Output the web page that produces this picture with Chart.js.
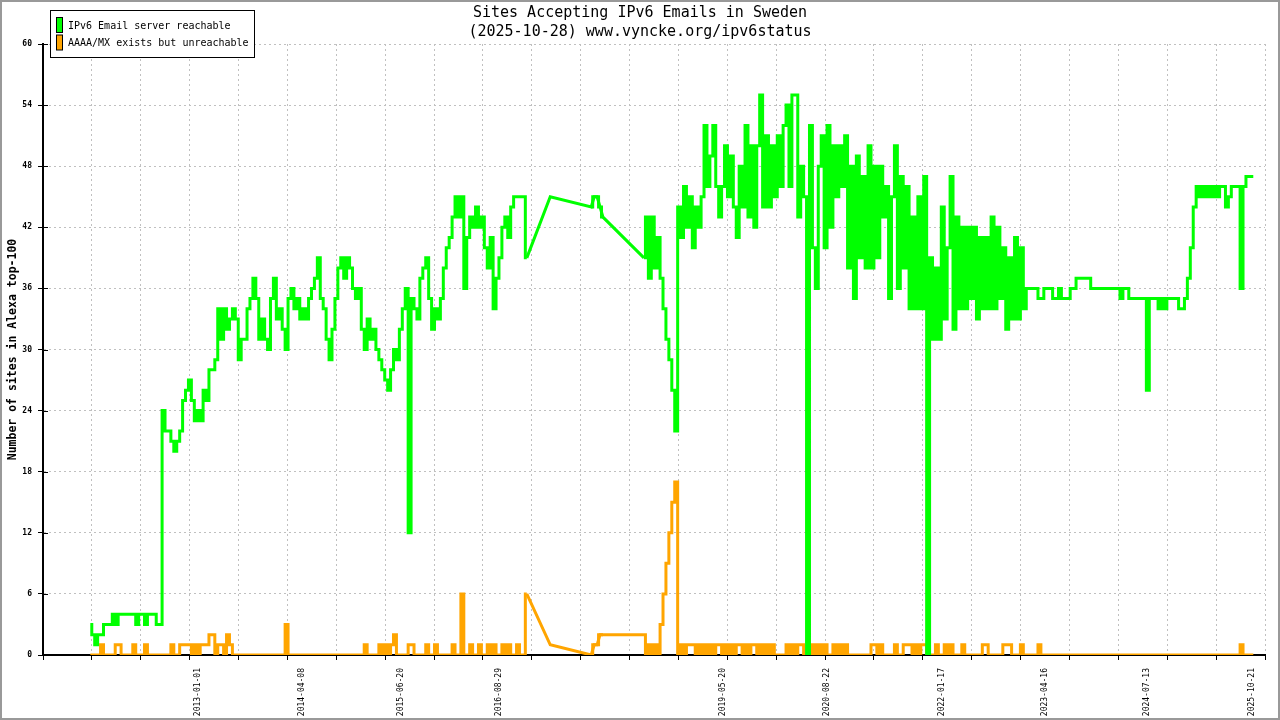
<!DOCTYPE html>
<html>
<head>
<meta charset="utf-8">
<title>Sites Accepting IPv6 Emails in Sweden</title>
<script src="https://cdn.jsdelivr.net/npm/chart.js@4.4.1/dist/chart.umd.min.js"></script>
<style>
  html, body { margin: 0; padding: 0; background: #fff; }
  canvas { display: block; }
</style>
</head>
<body>
<canvas id="ipv6Email" width="1280" height="720"></canvas>
<script>
// one reading every 13 days from 2011-09-11 up to 2025-10-28
// null = no measurement (2016-2018 has only a few readings, joined by straight lines)
const startDate = '2011-09-11';
const stepDays = 13;
const gapFirst = 149;   // first and last reading of the sparse stretch
const gapLast = 189;

const reachable = [
  3, 2, 1, 2, 2, 3, 3, 3, 4, 3,
  4, 4, 4, 4, 4, 4, 3, 4, 4, 3,
  4, 4, 4, 3, 3, 24, 22, 22, 21, 20,
  21, 22, 25, 26, 27, 25, 23, 24, 23, 26,
  25, 28, 28, 29, 34, 31, 34, 32, 33, 34,
  33, 29, 31, 31, 34, 35, 37, 35, 31, 33,
  31, 30, 35, 37, 33, 34, 32, 30, 35, 36,
  34, 35, 33, 34, 33, 35, 36, 37, 39, 35,
  34, 31, 29, 32, 35, 38, 39, 37, 39, 38,
  36, 35, 36, 32, 30, 33, 31, 32, 30, 29,
  28, 27, 26, 28, 30, 29, 32, 34, 36, 12,
  35, 34, 33, 37, 38, 39, 35, 32, 34, 33,
  35, 38, 40, 41, 43, 45, 43, 45, 36, 41,
  43, 42, 44, 42, 43, 40, 38, 41, 34, 37,
  39, 42, 43, 41, 44, 45, 45, 45, 45, 39,
  null, null, null, null, null, null, null, 45, null, null,
  null, null, null, null, null, null, null, null, null, null,
  null, 44, 45, 45, 44, 43, null, null, null, null,
  null, null, null, null, null, null, null, null, null, 39,
  43, 37, 43, 38, 41, 37, 34, 31, 29, 26,
  22, 44, 41, 46, 42, 45, 40, 44, 42, 45,
  52, 46, 49, 52, 46, 43, 46, 50, 45, 49,
  44, 41, 48, 44, 52, 43, 50, 42, 50, 55,
  44, 51, 44, 50, 45, 51, 46, 52, 54, 46,
  55, 55, 43, 48, 45, 0, 52, 40, 36, 48,
  51, 40, 52, 42, 50, 45, 50, 46, 51, 38,
  48, 35, 49, 39, 47, 38, 50, 38, 48, 39,
  48, 43, 46, 35, 45, 50, 36, 47, 38, 46,
  34, 43, 34, 45, 34, 47, 0, 39, 31, 38,
  31, 44, 33, 40, 47, 32, 43, 34, 42, 34,
  42, 35, 42, 33, 41, 34, 41, 34, 43, 34,
  42, 35, 40, 32, 39, 33, 41, 33, 40, 34,
  36, 36, 36, 36, 35, 35, 36, 36, 36, 35,
  35, 36, 35, 35, 35, 36, 36, 37, 37, 37,
  37, 37, 36, 36, 36, 36, 36, 36, 36, 36,
  36, 36, 35, 36, 36, 35, 35, 35, 35, 35,
  35, 26, 35, 35, 35, 34, 35, 34, 35, 35,
  35, 35, 34, 34, 35, 37, 40, 44, 46, 45,
  46, 45, 46, 45, 46, 45, 46, 46, 44, 45,
  46, 46, 46, 36, 46, 47, 47, 47
];

const unreachable = [
  0, 0, 0, 0, 1, 0, 0, 0, 0, 1,
  1, 0, 0, 0, 0, 1, 0, 0, 0, 1,
  0, 0, 0, 0, 0, 0, 0, 0, 1, 0,
  0, 1, 1, 1, 1, 0, 1, 0, 1, 1,
  1, 2, 2, 0, 1, 1, 0, 2, 1, 0,
  0, 0, 0, 0, 0, 0, 0, 0, 0, 0,
  0, 0, 0, 0, 0, 0, 0, 3, 0, 0,
  0, 0, 0, 0, 0, 0, 0, 0, 0, 0,
  0, 0, 0, 0, 0, 0, 0, 0, 0, 0,
  0, 0, 0, 0, 1, 0, 0, 0, 0, 1,
  0, 1, 0, 1, 2, 0, 0, 0, 0, 1,
  1, 0, 0, 0, 0, 1, 0, 0, 1, 0,
  0, 0, 0, 0, 1, 0, 0, 6, 0, 0,
  1, 0, 0, 1, 0, 0, 1, 0, 1, 0,
  0, 1, 0, 1, 0, 0, 1, 0, 0, 6,
  null, null, null, null, null, null, null, 1, null, null,
  null, null, null, null, null, null, null, null, null, null,
  null, 0, 1, 1, 2, 2, null, null, null, null,
  null, null, null, null, null, null, null, null, null, 2,
  0, 1, 0, 1, 0, 3, 6, 9, 12, 15,
  17, 0, 1, 0, 1, 1, 1, 0, 1, 0,
  1, 0, 1, 0, 1, 1, 0, 1, 0, 1,
  0, 1, 1, 0, 1, 0, 1, 1, 0, 1,
  0, 1, 0, 1, 0, 0, 0, 0, 1, 0,
  1, 0, 1, 1, 0, 0, 0, 1, 0, 1,
  0, 1, 0, 0, 1, 0, 1, 0, 1, 0,
  0, 0, 0, 0, 0, 0, 0, 1, 1, 0,
  1, 0, 0, 0, 0, 1, 0, 0, 1, 1,
  1, 0, 1, 0, 1, 1, 0, 0, 0, 1,
  0, 0, 1, 0, 1, 0, 0, 0, 1, 0,
  0, 0, 0, 0, 0, 1, 1, 0, 0, 0,
  0, 0, 1, 1, 1, 0, 0, 0, 1, 0,
  0, 0, 0, 0, 1, 0, 0, 0, 0, 0,
  0, 0, 0, 0, 0, 0, 0, 0, 0, 0,
  0, 0, 0, 0, 0, 0, 0, 0, 0, 0,
  0, 0, 0, 0, 0, 0, 0, 0, 0, 0,
  0, 0, 0, 0, 0, 0, 0, 0, 0, 0,
  0, 0, 0, 0, 0, 0, 0, 0, 0, 0,
  0, 0, 0, 0, 0, 0, 0, 0, 0, 0,
  0, 0, 0, 1, 0, 0, 0, 0
];

const xTickLabels = ['2013-01-01', '2014-04-08', '2015-06-20', '2016-08-29', '2019-05-20',
                     '2020-08-22', '2022-01-17', '2023-04-16', '2024-07-13', '2025-10-21'];
const axisStart = '2011-02-13';
const axisEnd = '2025-12-19';
const xTickCount = 25;

const titleLines = ['Sites Accepting IPv6 Emails in Sweden', '(2025-10-28) www.vyncke.org/ipv6status'];
const seriesNames = ['IPv6 Email server reachable', 'AAAA/MX exists but unreachable'];
const seriesColors = ['#00ff00', '#ffa500'];

const MONO = "'DejaVu Sans Mono', 'Liberation Mono', monospace";
const DAY = 86400000;
const dayOf = (s) => (Date.parse(s) - Date.parse(startDate)) / DAY;
const dateOf = (d) => new Date(Date.parse(startDate) + d * DAY).toISOString().slice(0, 10);

const labelDays = new Set(xTickLabels.map(dayOf));
const isLabelTick = (c) => c.tick && labelDays.has(c.tick.value);

const toPoints = (arr) => arr.map((v, i) => ({ x: i * stepDays, y: v }));
const gapPoints = (arr) => toPoints(arr).slice(gapFirst, gapLast + 1).filter(p => p.y !== null);

// white background, legend box, grey frame, inner half of the y ticks
const decorations = {
  id: 'decorations',
  beforeDraw(chart) {
    const { ctx, width, height } = chart;
    ctx.save();
    ctx.fillStyle = '#fff';
    ctx.fillRect(0, 0, width, height);
    ctx.restore();
  },
  beforeDatasetsDraw(chart) {
    const { ctx } = chart;
    const ys = chart.scales.y;
    ctx.save();
    ctx.strokeStyle = '#000';
    ctx.lineWidth = 1;
    ys.ticks.forEach(t => {
      const py = Math.round(ys.getPixelForValue(t.value)) + 0.5;
      ctx.beginPath();
      ctx.moveTo(ys.right, py);
      ctx.lineTo(ys.right + 5, py);
      ctx.stroke();
    });
    ctx.restore();
  },
  afterDraw(chart) {
    const { ctx, width, height } = chart;
    ctx.save();
    ctx.fillStyle = '#fff';
    ctx.fillRect(50.5, 10.5, 204, 47);
    ctx.strokeStyle = '#000';
    ctx.lineWidth = 1;
    ctx.strokeRect(50.5, 10.5, 204, 47);
    ctx.font = '10px ' + MONO;
    ctx.textBaseline = 'middle';
    seriesNames.forEach((name, i) => {
      const cy = 25 + i * 17.5;
      ctx.fillStyle = seriesColors[i];
      ctx.fillRect(56.5, cy - 7.5, 6, 15);
      ctx.strokeRect(56.5, cy - 7.5, 6, 15);
      ctx.fillStyle = '#000';
      ctx.fillText(name, 68, cy + 1);
    });
    ctx.strokeStyle = '#999';
    ctx.lineWidth = 2;
    ctx.strokeRect(1, 1, width - 2, height - 2);
    ctx.restore();
  }
};

let ctx = document.getElementById('ipv6Email').getContext('2d');
let myChart = new Chart(ctx, {
  type: 'line',
  data: {
    datasets: [{
      label: seriesNames[0],
      data: toPoints(reachable),
      borderColor: seriesColors[0],
      stepped: 'middle',
      spanGaps: false
    }, {
      label: seriesNames[1],
      data: toPoints(unreachable),
      borderColor: seriesColors[1],
      stepped: 'middle',
      spanGaps: false
    }, {
      // the few readings of 2016-2018, straight lines between them
      label: seriesNames[0],
      data: gapPoints(reachable),
      borderColor: seriesColors[0],
      spanGaps: true
    }, {
      label: seriesNames[1],
      data: gapPoints(unreachable),
      borderColor: seriesColors[1],
      spanGaps: true
    }]
  },
  options: {
    responsive: false,
    animation: false,
    devicePixelRatio: 1,
    events: [],
    elements: {
      point: { radius: 0 },
      line: { borderWidth: 3, tension: 0, fill: false, borderJoinStyle: 'miter', borderCapStyle: 'butt' }
    },
    layout: { padding: 0 },
    plugins: {
      legend: { display: false },
      tooltip: { enabled: false },
      title: {
        display: true,
        text: titleLines,
        color: '#000',
        font: { family: MONO, size: 15, weight: 'normal', lineHeight: 1.25 },
        padding: { top: 4, bottom: 2.5 }
      }
    },
    scales: {
      x: {
        type: 'linear',
        min: dayOf(axisStart),
        max: dayOf(axisEnd),
        afterBuildTicks: (scale) => {
          const lo = dayOf(axisStart), hi = dayOf(axisEnd);
          const ticks = [];
          for (let k = 0; k <= xTickCount; k++) ticks.push({ value: lo + (hi - lo) * k / xTickCount });
          xTickLabels.forEach(s => ticks.push({ value: dayOf(s) }));
          ticks.sort((a, b) => a.value - b.value);
          scale.ticks = ticks;
        },
        afterFit: (scale) => {
          scale.height = 65;
          scale.paddingRight = 15;
        },
        ticks: {
          autoSkip: false,
          minRotation: 90,
          maxRotation: 90,
          padding: 8,
          color: '#000',
          font: { family: MONO, size: 8 },
          callback: (value) => labelDays.has(value) ? dateOf(value) : ''
        },
        grid: {
          color: '#c0c0c0',
          lineWidth: (c) => isLabelTick(c) ? 0 : 1,
          tickColor: '#000',
          tickWidth: (c) => isLabelTick(c) ? 0 : 1,
          tickLength: 5
        },
        border: { display: true, color: '#000', width: 2, dash: [2, 3] }
      },
      y: {
        min: 0,
        max: 60,
        afterFit: (scale) => { scale.width = 43; },
        ticks: {
          stepSize: 6,
          padding: 6,
          color: '#000',
          font: { family: MONO, size: 8, weight: 'bold' }
        },
        grid: {
          color: '#c0c0c0',
          lineWidth: 1,
          tickColor: '#000',
          tickLength: 5
        },
        border: { display: true, color: '#000', width: 2, dash: [2, 3] },
        title: {
          display: true,
          text: 'Number of sites in Alexa top-100',
          color: '#000',
          font: { family: MONO, size: 11.5, weight: 'bold' },
          padding: { top: 6, bottom: 0 }
        }
      }
    }
  },
  plugins: [decorations]
});
</script>
</body>
</html>
